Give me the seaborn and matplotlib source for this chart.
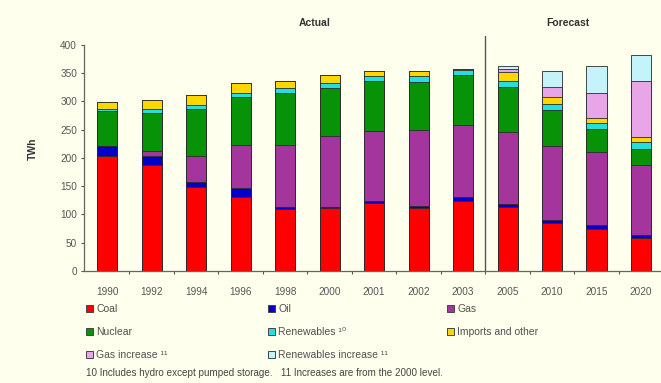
import matplotlib
matplotlib.use("Agg")
import matplotlib.pyplot as plt
from matplotlib.patches import Patch
import numpy as np
import seaborn as sns

# Electricity supply by source, TWh
years = ["1990", "1992", "1994", "1996", "1998", "2000", "2001", "2002",
         "2003", "2005", "2010", "2015", "2020"]
coal = [204, 187, 149, 131, 110, 112, 120, 112, 124, 114, 85, 75, 58]
oil = [17, 16, 9, 15, 4, 1, 3, 3, 6, 5, 6, 6, 6]
gas = [0, 9, 45, 76, 108, 126, 125, 135, 128, 127, 130, 130, 124]
nuclear = [61, 68, 84, 86, 92, 84, 87, 84, 88, 80, 64, 40, 28]
renewables = [5, 7, 7, 6, 9, 10, 9, 10, 9, 10, 11, 10, 12]
imports = [12, 16, 17, 19, 13, 14, 10, 10, 2, 15, 12, 9, 9]
gas_increase = [0, 0, 0, 0, 0, 0, 0, 0, 0, 6, 17, 44, 98]
renewables_increase = [0, 0, 0, 0, 0, 0, 0, 0, 0, 6, 29, 48, 47]

series = [
    ("Coal", coal, "#FF0000"),
    ("Oil", oil, "#0000C8"),
    ("Gas", gas, "#A3359C"),
    ("Nuclear", nuclear, "#079207"),
    ("Renewables \u00b9\u2070", renewables, "#22E0E0"),
    ("Imports and other", imports, "#FFD700"),
    ("Gas increase \u00b9\u00b9", gas_increase, "#E8A6E8"),
    ("Renewables increase \u00b9\u00b9", renewables_increase, "#C4F4FA"),
]

sns.set_style("white")
plt.rcParams["font.family"] = ["Liberation Sans", "DejaVu Sans"]

bg = "#FFFFEE"
fig = plt.figure(figsize=(6.61, 3.83), dpi=100, facecolor=bg)
ax = fig.add_axes([84 / 661, 1 - 271 / 383, (661 - 84) / 661, (271 - 44.7) / 383])
ax.set_facecolor(bg)

# Stacked bars: draw cumulative totals from the top layer down
cum = np.cumsum([np.array(v, dtype=float) for _, v, _ in series], axis=0)
for i in range(len(series) - 1, -1, -1):
    sns.barplot(x=years, y=cum[i], color=series[i][2], saturation=1,
                width=0.45, edgecolor="#2a2a2a", linewidth=0.6,
                errorbar=None, ax=ax)

ax.set_xlim(-0.52, 12.45)
ax.set_ylim(0, 400)
ax.set_yticks(np.arange(0, 401, 50))
ax.set_xticks(range(len(years)))
ax.set_xticklabels(years)
ax.set_xticks(np.arange(0.5, len(years) - 0.5, 1), minor=True)
ax.tick_params(axis="x", which="major", length=0, pad=11.5, labelsize=7.2,
               labelcolor="#555555")
ax.tick_params(axis="x", which="minor", length=2.5, width=0.8,
               direction="out", color="#555555", bottom=True)
ax.tick_params(axis="y", length=2.5, width=0.8, direction="out",
               color="#555555", pad=2.5, labelsize=7.2, labelcolor="#555555",
               left=True)
ax.set_xlabel("")
ax.set_ylabel("TWh", fontsize=7.5, fontweight="bold", color="#333333")
ax.yaxis.set_label_coords(-46 / 577, 0.54)

for side in ("top", "right"):
    ax.spines[side].set_visible(False)
for side in ("left", "bottom"):
    ax.spines[side].set_color("#666666")
    ax.spines[side].set_linewidth(0.9)

# Divider between actual and forecast years
ax.axvline(8.5, ymin=0, ymax=415 / 400, color="#555555", lw=1.0, clip_on=False)

fig.text(315 / 661, 1 - 23 / 383, "Actual", ha="center", va="center",
         fontsize=7.5, fontweight="bold", color="#333333")
fig.text(568 / 661, 1 - 23 / 383, "Forecast", ha="center", va="center",
         fontsize=7.5, fontweight="bold", color="#333333")

# Legend in three columns
columns = [[0, 3, 6], [1, 4, 7], [2, 5]]
col_x = [86, 268, 447]
for xs, idx in zip(col_x, columns):
    handles = [Patch(facecolor=series[k][2], edgecolor="#444444", linewidth=0.7,
                     label=series[k][0]) for k in idx]
    fig.legend(handles=handles, loc="upper left",
               bbox_to_anchor=(xs / 661, 1 - 304.5 / 383),
               frameon=False, fontsize=7.5, handlelength=0.65,
               handleheight=0.65, handletextpad=0.35, labelspacing=1.22,
               borderpad=0, borderaxespad=0, labelcolor="#505050")

fig.text(86 / 661, 1 - 373 / 383,
         "10 Includes hydro except pumped storage.   11 Increases are from the 2000 level.",
         ha="left", va="center", fontsize=7.1, color="#444444")

fig.savefig("out.png", dpi=100, facecolor=bg)
